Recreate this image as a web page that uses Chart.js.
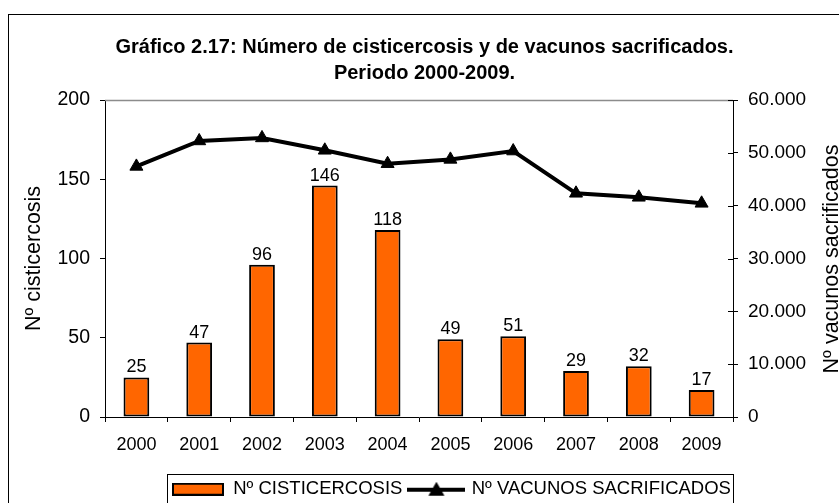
<!DOCTYPE html>
<html>
<head>
<meta charset="utf-8">
<script src="https://cdn.jsdelivr.net/npm/chart.js@4.4.1/dist/chart.umd.min.js"></script>
<style>
  html, body { margin: 0; padding: 0; background: #fff; }
  #wrap { width: 839px; height: 503px; }
</style>
</head>
<body>
<div id="wrap"><canvas id="chart" width="839" height="503"></canvas></div>
<script>
'use strict';

// Datos
const years = ['2000', '2001', '2002', '2003', '2004', '2005', '2006', '2007', '2008', '2009'];
const cisticercosis = [25, 47, 96, 146, 118, 49, 51, 29, 32, 17];
const vacunos = [47430, 52250, 52820, 50480, 47940, 48760, 50340, 42340, 41580, 40440];
const leftTicks = ['0', '50', '100', '150', '200'];
const rightTicks = ['0', '10.000', '20.000', '30.000', '40.000', '50.000', '60.000'];

const FONT = '"Liberation Sans", Arial, sans-serif';
const ORANGE = '#FF6600';

// muestras de la leyenda (caja naranja y línea con triángulo)
function makeBarSwatch() {
    const c = document.createElement('canvas');
    c.width = 52; c.height = 13;
    const g = c.getContext('2d');
    g.fillStyle = '#000';
    g.fillRect(0, 0, 52, 13);
    g.fillStyle = ORANGE;
    g.fillRect(2, 2, 48, 9);
    return c;
}
function makeLineSwatch() {
    const c = document.createElement('canvas');
    c.width = 58; c.height = 15;
    const g = c.getContext('2d');
    g.fillStyle = '#000';
    g.fillRect(0, 6, 58, 4);
    g.beginPath();
    g.moveTo(29, 0);
    g.lineTo(37, 14);
    g.lineTo(21, 14);
    g.closePath();
    g.fill();
    return c;
}
const swatches = [makeBarSwatch(), makeLineSwatch()];

// marco, borde superior del área, ticks interiores, título derecho, caja de leyenda
const decorations = {
    id: 'decorations',
    beforeDraw(chart) {
        const ctx = chart.ctx;
        ctx.save();
        ctx.fillStyle = '#fff';
        ctx.fillRect(0, 0, chart.width, chart.height);
        ctx.strokeStyle = '#000';
        ctx.lineWidth = 1;
        ctx.strokeRect(8.5, 14.5, 900, 600);
        ctx.restore();

        // el título va centrado sobre el marco, no sobre el lienzo
        if (chart.titleBlock) {
            chart.titleBlock.left = 10;
            chart.titleBlock.right = 839;
        }

        // leyenda alineada con su caja
        const lg = chart.legend;
        if (lg && lg.lineWidths) {
            const pad = lg.options.labels.padding;
            const start = (lg.left + pad + lg.right - lg.lineWidths[0]) / 2;
            const dx = 172 - start;
            lg.left += dx;
            lg.right += dx;
        }
    },
    beforeDatasetsDraw(chart) {
        const { ctx, chartArea } = chart;
        ctx.save();
        ctx.strokeStyle = '#8c8c8c';
        ctx.lineWidth = 1.5;
        ctx.beginPath();
        ctx.moveTo(chartArea.left, chartArea.top + 0.5);
        ctx.lineTo(chartArea.right, chartArea.top + 0.5);
        ctx.stroke();
        // ticks del eje derecho que cruzan hacia dentro
        const y2 = chart.scales.y2;
        ctx.strokeStyle = '#000';
        ctx.lineWidth = 1;
        y2.ticks.forEach(t => {
            const py = Math.round(y2.getPixelForValue(t.value)) + 0.5;
            ctx.beginPath();
            ctx.moveTo(chartArea.right - 5, py);
            ctx.lineTo(chartArea.right, py);
            ctx.stroke();
        });
        ctx.restore();
    },
    afterDraw(chart) {
        const ctx = chart.ctx;
        ctx.save();
        ctx.fillStyle = '#000';
        ctx.font = '21.5px ' + FONT;
        ctx.textAlign = 'center';
        ctx.textBaseline = 'alphabetic';
        ctx.translate(838, 259);
        ctx.rotate(-Math.PI / 2);
        ctx.fillText('Nº vacunos sacrificados', 0, 0);
        ctx.restore();

        ctx.save();
        ctx.strokeStyle = '#000';
        ctx.lineWidth = 1;
        ctx.strokeRect(167.5, 474.5, 566, 32);
        ctx.restore();
    }
};

// etiquetas de valor sobre las barras
const valueLabels = {
    id: 'valueLabels',
    afterDatasetsDraw(chart) {
        const meta = chart.getDatasetMeta(0);
        const ctx = chart.ctx;
        ctx.save();
        ctx.font = '18px ' + FONT;
        ctx.fillStyle = '#000';
        ctx.textAlign = 'center';
        ctx.textBaseline = 'alphabetic';
        meta.data.forEach((bar, i) => {
            ctx.fillText(String(cisticercosis[i]), bar.x, bar.y - 5);
        });
        ctx.restore();
    }
};

new Chart(document.getElementById('chart').getContext('2d'), {
    type: 'bar',
    data: {
        labels: years,
        datasets: [{
            type: 'bar',
            label: 'Nº CISTICERCOSIS',
            data: cisticercosis,
            yAxisID: 'y',
            backgroundColor: ORANGE,
            borderColor: '#000',
            borderWidth: 2,
            borderSkipped: false,
            barPercentage: 0.41,
            categoryPercentage: 1.0
        }, {
            type: 'line',
            label: 'Nº VACUNOS SACRIFICADOS',
            data: vacunos,
            yAxisID: 'y2',
            borderColor: '#000',
            backgroundColor: '#000',
            borderWidth: 4,
            pointStyle: 'triangle',
            pointRadius: 7.5,
            pointBackgroundColor: '#000',
            pointBorderColor: '#000',
            pointBorderWidth: 1,
            tension: 0,
            fill: false
        }]
    },
    options: {
        responsive: false,
        animation: false,
        devicePixelRatio: 1,
        layout: { padding: 0 },
        scales: {
            x: {
                offset: true,
                grid: { offset: true, drawOnChartArea: false, tickLength: 5, color: '#000' },
                border: { display: true, color: '#000', width: 1 },
                ticks: { color: '#000', font: { family: FONT, size: 18 }, padding: 12, maxRotation: 0 },
                afterFit: s => { s.height = 55; }
            },
            y: {
                position: 'left',
                min: 0,
                max: 200,
                grid: { drawOnChartArea: false, tickLength: 5, color: '#000' },
                border: { display: true, color: '#000', width: 1 },
                ticks: {
                    stepSize: 50, color: '#000', padding: 10,
                    font: { family: FONT, size: 19.5 },
                    callback: (v, i) => leftTicks[i]
                },
                title: {
                    display: true,
                    text: 'Nº cisticercosis',
                    color: '#000',
                    font: { family: FONT, size: 21.5 },
                    padding: { top: 21, bottom: 0 }
                },
                afterFit: s => { s.width = 105; }
            },
            y2: {
                position: 'right',
                min: 0,
                max: 60000,
                grid: { drawOnChartArea: false, tickLength: 5, color: '#000' },
                border: { display: true, color: '#000', width: 1 },
                ticks: {
                    stepSize: 10000, color: '#000', padding: 10,
                    font: { family: FONT, size: 19 },
                    callback: (v, i) => rightTicks[i]
                },
                afterFit: s => { s.width = 106; }
            }
        },
        plugins: {
            title: {
                display: true,
                text: ['Gráfico 2.17: Número de cisticercosis y de vacunos sacrificados.', 'Periodo 2000-2009.'],
                color: '#000',
                font: { family: FONT, size: 20, weight: 'bold', lineHeight: '26px' },
                padding: { top: 34, bottom: 14 }
            },
            legend: {
                position: 'bottom',
                maxHeight: 31,
                labels: {
                    color: '#000',
                    font: { family: FONT, size: 18.5 },
                    usePointStyle: true,
                    pointStyleWidth: 52,
                    boxHeight: 13,
                    padding: 8,
                    generateLabels: chart => {
                        const items = Chart.defaults.plugins.legend.labels.generateLabels(chart);
                        items.forEach((it, i) => { it.pointStyle = swatches[i]; });
                        return items;
                    }
                }
            },
            tooltip: { enabled: false }
        }
    },
    plugins: [decorations, valueLabels]
});
</script>
</body>
</html>
